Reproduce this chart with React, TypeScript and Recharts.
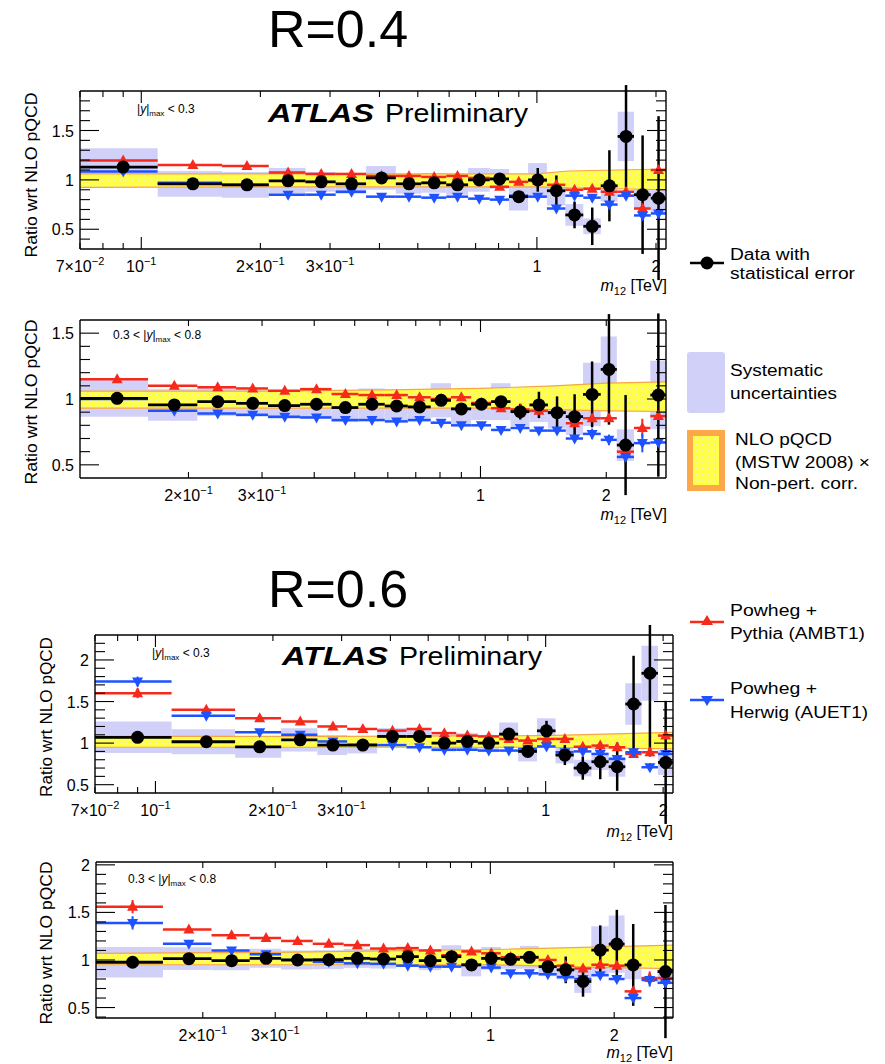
import React from "react";
import { ComposedChart, XAxis, YAxis, Scatter, ErrorBar, Area, ReferenceArea } from "recharts";

// dijet mass bin edges [TeV]
const EDGES = [0.07, 0.11, 0.16, 0.21, 0.26, 0.31, 0.37, 0.44, 0.51, 0.59, 0.67, 0.76, 0.85, 0.95, 1.06, 1.18, 1.31, 1.45, 1.6, 1.76, 1.94, 2.12, 2.33, 2.55, 2.78];

const CENTRAL_BINS = [0, 1, 2, 3, 4, 5, 6, 7, 8, 9, 10, 11, 12, 13, 14, 15, 16, 17, 18, 19, 20];
const FWD_BINS = [1, 2, 3, 4, 5, 6, 7, 8, 9, 10, 11, 12, 13, 14, 15, 16, 17, 18, 19, 20, 21, 22, 23];
const FWD_DATA_BINS = [1, 2, 3, 4, 5, 6, 7, 8, 9, 10, 11, 12, 13, 14, 15, 16, 17, 18, 19, 20, 21, 23];

// R=0.4, |y|max < 0.3
const R04C_DATA = [1.13, 0.96, 0.95, 0.99, 0.98, 0.96, 1.02, 0.96, 0.97, 0.95, 1.0, 1.01, 0.83, 1.0, 0.89, 0.645, 0.53, 0.94, 1.44, 0.85, 0.815];
const R04C_STAT = [0.06, 0.01, 0.01, 0.01, 0.01, 0.01, 0.01, 0.01, 0.01, 0.01, 0.02, 0.03, 0.05, 0.12, 0.155, 0.135, 0.19, 0.36, 0.52, 0.6, 0.83];
const R04C_SYST = [0.19, 0.13, 0.13, 0.13, 0.1, 0.1, 0.12, 0.1, 0.1, 0.1, 0.12, 0.1, 0.14, 0.17, 0.15, 0.11, 0.08, 0.16, 0.25, 0.15, 0.15];
const R04C_PYTHIA = [1.195, 1.15, 1.14, 1.075, 1.06, 1.06, 1.04, 1.04, 1.03, 1.04, 1.02, 0.93, 0.98, 0.99, 0.95, 0.9, 0.91, 0.88, 0.88, 0.71, 1.1];
const R04C_HERWIG = [1.085, 0.97, 0.95, 0.85, 0.85, 0.88, 0.83, 0.83, 0.82, 0.83, 0.81, 0.8, 0.84, 0.83, 0.71, 0.84, 0.82, 0.75, 0.84, 0.64, 0.66];
const R04C_MC_ERR = [0.03, 0.01, 0.01, 0.01, 0.01, 0.01, 0.01, 0.01, 0.01, 0.01, 0.01, 0.01, 0.01, 0.02, 0.02, 0.02, 0.02, 0.03, 0.03, 0.04, 0.04];
const R04C_NLO_X = [0.07, 0.3, 0.6, 1.0, 1.2, 1.6, 2.12];
const R04C_NLO_LO = [0.925, 0.93, 0.93, 0.93, 0.92, 0.91, 0.9];
const R04C_NLO_HI = [1.06, 1.06, 1.06, 1.06, 1.09, 1.1, 1.11];

// R=0.4, 0.3 < |y|max < 0.8
const R04F_DATA = [1.005, 0.955, 0.98, 0.967, 0.95, 0.96, 0.935, 0.96, 0.947, 0.94, 0.99, 0.925, 0.96, 0.98, 0.904, 0.955, 0.896, 0.866, 1.035, 1.225, 0.65, 1.03];
const R04F_STAT = [0.01, 0.01, 0.01, 0.01, 0.01, 0.01, 0.01, 0.01, 0.01, 0.01, 0.015, 0.015, 0.02, 0.03, 0.06, 0.1, 0.124, 0.17, 0.25, 0.42, 0.38, 0.62];
const R04F_SYST = [0.14, 0.12, 0.11, 0.1, 0.1, 0.11, 0.11, 0.12, 0.11, 0.11, 0.13, 0.12, 0.12, 0.14, 0.11, 0.13, 0.12, 0.14, 0.24, 0.25, 0.12, 0.26];
const R04F_PYTHIA = [1.15, 1.1, 1.09, 1.08, 1.063, 1.075, 1.038, 1.03, 1.03, 1.013, 1.0, 1.013, 0.97, 0.93, 0.92, 0.91, 0.9, 0.816, 0.854, 0.854, 0.6, 0.78, 0.87];
const R04F_HERWIG = [1.0, 0.91, 0.89, 0.88, 0.866, 0.86, 0.84, 0.84, 0.83, 0.84, 0.82, 0.8, 0.8, 0.765, 0.78, 0.76, 0.76, 0.7, 0.735, 0.69, 0.56, 0.665, 0.67];
const R04F_MC_ERR = [0.02, 0.01, 0.01, 0.01, 0.01, 0.01, 0.01, 0.01, 0.01, 0.01, 0.01, 0.01, 0.01, 0.02, 0.02, 0.02, 0.03, 0.03, 0.04, 0.04, 0.05, 0.07, 0.04];
const R04F_NLO_X = [0.11, 0.3, 0.6, 1.0, 1.5, 2.0, 2.78];
const R04F_NLO_LO = [0.93, 0.93, 0.93, 0.93, 0.92, 0.91, 0.905];
const R04F_NLO_HI = [1.06, 1.06, 1.07, 1.08, 1.1, 1.12, 1.13];

// R=0.6, |y|max < 0.3
const R06C_DATA = [1.07, 1.016, 0.955, 1.04, 0.976, 0.976, 1.08, 1.08, 1.0, 1.02, 1.0, 1.108, 0.9, 1.148, 0.856, 0.7, 0.776, 0.716, 1.47, 1.84, 0.768];
const R06C_STAT = [0.02, 0.01, 0.01, 0.01, 0.01, 0.01, 0.01, 0.01, 0.01, 0.02, 0.03, 0.06, 0.05, 0.12, 0.12, 0.14, 0.21, 0.29, 0.58, 1.0, 0.74];
const R06C_SYST = [0.19, 0.15, 0.13, 0.14, 0.12, 0.1, 0.1, 0.1, 0.1, 0.1, 0.1, 0.14, 0.12, 0.15, 0.1, 0.1, 0.1, 0.12, 0.25, 0.33, 0.15];
const R06C_PYTHIA = [1.6, 1.4, 1.3, 1.26, 1.2, 1.17, 1.15, 1.17, 1.12, 1.09, 1.08, 1.05, 1.03, 1.05, 1.05, 0.956, 0.97, 0.95, 0.87, 0.89, 1.09];
const R06C_HERWIG = [1.74, 1.33, 1.13, 1.1, 1.02, 0.98, 0.976, 0.95, 0.92, 0.92, 0.91, 0.91, 0.93, 0.96, 0.89, 0.9, 0.87, 0.81, 0.89, 0.71, 0.87];
const R06C_MC_ERR = [0.06, 0.02, 0.01, 0.01, 0.01, 0.01, 0.01, 0.01, 0.01, 0.01, 0.01, 0.01, 0.01, 0.02, 0.02, 0.02, 0.03, 0.03, 0.04, 0.05, 0.05];
const R06C_NLO_X = [0.07, 0.3, 1.0, 2.12];
const R06C_NLO_LO = [0.95, 0.95, 0.95, 0.93];
const R06C_NLO_HI = [1.08, 1.08, 1.09, 1.13];

// R=0.6, 0.3 < |y|max < 0.8
const R06F_DATA = [0.976, 1.014, 0.993, 1.017, 1.0, 1.003, 1.017, 1.01, 1.035, 0.993, 1.035, 0.948, 1.017, 1.007, 1.028, 0.93, 0.896, 0.774, 1.104, 1.167, 0.948, 0.878];
const R06F_STAT = [0.01, 0.01, 0.01, 0.01, 0.01, 0.01, 0.01, 0.01, 0.01, 0.01, 0.01, 0.02, 0.02, 0.03, 0.04, 0.1, 0.14, 0.16, 0.26, 0.36, 0.43, 0.7];
const R06F_SYST = [0.16, 0.12, 0.1, 0.1, 0.1, 0.1, 0.1, 0.1, 0.1, 0.1, 0.12, 0.12, 0.12, 0.1, 0.12, 0.1, 0.1, 0.12, 0.25, 0.3, 0.15, 0.1];
const R06F_PYTHIA = [1.56, 1.32, 1.26, 1.23, 1.2, 1.17, 1.156, 1.12, 1.125, 1.1, 1.05, 1.09, 1.07, 1.03, 1.03, 1.0, 0.94, 0.91, 0.95, 0.94, 0.67, 0.81, 0.81];
const R06F_HERWIG = [1.39, 1.17, 1.1, 1.06, 1.0, 0.98, 0.965, 0.96, 0.94, 0.93, 0.93, 0.95, 0.92, 0.86, 0.86, 0.85, 0.82, 0.8, 0.84, 0.8, 0.6, 0.79, 0.76];
const R06F_MC_ERR = [0.07, 0.02, 0.01, 0.01, 0.01, 0.01, 0.01, 0.01, 0.01, 0.01, 0.01, 0.01, 0.01, 0.02, 0.02, 0.02, 0.03, 0.03, 0.04, 0.04, 0.05, 0.07, 0.05];
const R06F_NLO_X = [0.11, 0.3, 1.0, 2.0, 2.78];
const R06F_NLO_LO = [0.95, 0.95, 0.95, 0.92, 0.91];
const R06F_NLO_HI = [1.07, 1.08, 1.11, 1.14, 1.156];

// axis ticks
const X_TICKS_LOW = [0.07, 0.08, 0.09, 0.1, 0.2, 0.3, 0.4, 0.5, 0.6, 0.7, 0.8, 0.9, 1, 2];
const X_TICKS_HIGH = [0.2, 0.3, 0.4, 0.5, 0.6, 0.7, 0.8, 0.9, 1, 2];
const X_LABELS_LOW: [number, string, string][] = [[0.07, "7×10", "−2"], [0.1, "10", "−1"], [0.2, "2×10", "−1"], [0.3, "3×10", "−1"], [1, "1", ""], [2, "2", ""]];
const X_LABELS_HIGH: [number, string, string][] = [[0.2, "2×10", "−1"], [0.3, "3×10", "−1"], [1, "1", ""], [2, "2", ""]];
const Y_TICKS_A = [0.4, 0.5, 0.6, 0.7, 0.8, 0.9, 1, 1.1, 1.2, 1.3, 1.4, 1.5, 1.6, 1.7, 1.8];
const Y_TICKS_B = [0.5, 0.6, 0.7, 0.8, 0.9, 1, 1.1, 1.2, 1.3, 1.4, 1.5];
const Y_TICKS_C = [0.5, 0.6, 0.7, 0.8, 0.9, 1, 1.1, 1.2, 1.3, 1.4, 1.5, 1.6, 1.7, 1.8, 1.9, 2, 2.1, 2.2];
const Y_TICKS_D = [0.4, 0.5, 0.6, 0.7, 0.8, 0.9, 1, 1.1, 1.2, 1.3, 1.4, 1.5, 1.6, 1.7, 1.8, 1.9, 2];
const Y_MAJOR = [0.5, 1, 1.5, 2];

const FONT = "'Liberation Sans', Arial, Helvetica, sans-serif";
const RED = "#f52a1c";
const BLUE = "#1f52ff";
const SYST = "#d0d0f8";
const NLO_EDGE = "#f7a545";
const AXIS = { stroke: "#000", strokeWidth: 1.4 };

const mid = (b: number) => (EDGES[b] + EDGES[b + 1]) / 2;
const points = (bins: number[], ys: number[], errs: number[]) =>
  bins.map((b, i) => ({ x: mid(b), y: ys[i], ex: [mid(b) - EDGES[b], EDGES[b + 1] - mid(b)], ey: errs[i] }));
const boxes = (bins: number[], ys: number[], syst: number[]) =>
  bins.map((b, i) => ({ x1: EDGES[b], x2: EDGES[b + 1], y1: ys[i] - syst[i], y2: ys[i] + syst[i] }));
const band = (xs: number[], lo: number[], hi: number[]) => xs.map((x, i) => ({ x, band: [lo[i], hi[i]] }));

const Dot = (p: any) => <circle cx={p.cx} cy={p.cy} r={6.5} fill="#000" />;
const Up = (p: any) => <path d={`M${p.cx},${p.cy - 6} L${p.cx + 5.5},${p.cy + 4} L${p.cx - 5.5},${p.cy + 4} Z`} fill={RED} />;
const Down = (p: any) => <path d={`M${p.cx},${p.cy + 6} L${p.cx + 5.5},${p.cy - 4} L${p.cx - 5.5},${p.cy - 4} Z`} fill={BLUE} />;

const xTick = (labels: [number, string, string][], top: boolean) => (p: any) => {
  const v = p.payload.value;
  const len = v === 0.1 || v === 1 ? 12 : 6;
  const lab = labels.find((l) => l[0] === v);
  return (
    <g>
      <line x1={p.x} x2={p.x} y1={p.y} y2={top ? p.y + len : p.y - len} stroke="#000" strokeWidth={1.1} />
      {!top && lab && (
        <text x={p.x} y={p.y + 23} textAnchor="middle" fontSize={16} fontFamily={FONT} fill="#000">
          <tspan>{lab[1]}</tspan>
          {lab[2] && <tspan dy={-7} fontSize={11}>{lab[2]}</tspan>}
        </text>
      )}
    </g>
  );
};

const yTick = (right: boolean) => (p: any) => {
  const v = p.payload.value;
  const major = Y_MAJOR.includes(v);
  const len = major ? 19 : 10;
  return (
    <g>
      <line x1={p.x} x2={right ? p.x - len : p.x + len} y1={p.y} y2={p.y} stroke="#000" strokeWidth={1.1} />
      {!right && major && (
        <text x={p.x - 6} y={p.y + 6} textAnchor="end" fontSize={16} fontFamily={FONT} fill="#000">{v}</text>
      )}
    </g>
  );
};

type PanelProps = {
  id: string;
  frame: { x0: number; x1: number; y0: number; y1: number };
  xDomain: [number, number];
  yDomain: [number, number];
  xTicks: number[];
  xLabels: [number, string, string][];
  yTicks: number[];
  nlo: any[];
  syst: any[];
  data: any[];
  pythia: any[];
  herwig: any[];
};

function Panel({ id, frame, xDomain, yDomain, xTicks, xLabels, yTicks, nlo, syst, data, pythia, herwig }: PanelProps) {
  return (
    <div style={{ position: "absolute", left: 0, top: frame.y0 - 10 }}>
      <ComposedChart width={frame.x1 + 10} height={frame.y1 - frame.y0 + 55} data={nlo} margin={{ top: 9, right: 9, bottom: 0, left: 0 }}>
        <defs>
          <pattern id={`hatch-${id}`} width="3" height="3" patternUnits="userSpaceOnUse">
            <rect width="3" height="3" fill="#ffff4a" />
            <rect width="1" height="1" fill="#f3eeb0" />
          </pattern>
        </defs>
        <XAxis dataKey="x" type="number" scale="log" domain={xDomain} allowDataOverflow ticks={xTicks} interval={0}
          tickSize={0} tickMargin={0} tickLine={false} axisLine={AXIS} tick={xTick(xLabels, false)} height={45} />
        <XAxis xAxisId="top" orientation="top" dataKey="x" type="number" scale="log" domain={xDomain} allowDataOverflow ticks={xTicks} interval={0}
          tickSize={0} tickMargin={0} tickLine={false} axisLine={AXIS} tick={xTick(xLabels, true)} height={1} />
        <YAxis dataKey="y" type="number" domain={yDomain} allowDataOverflow ticks={yTicks} interval={0}
          tickSize={0} tickMargin={0} tickLine={false} axisLine={AXIS} tick={yTick(false)} width={frame.x0} />
        <YAxis yAxisId="right" orientation="right" dataKey="y" type="number" domain={yDomain} allowDataOverflow ticks={yTicks} interval={0}
          tickSize={0} tickMargin={0} tickLine={false} axisLine={AXIS} tick={yTick(true)} width={1} />
        {syst.map((s, i) => (
          <ReferenceArea key={i} x1={s.x1} x2={s.x2} y1={s.y1} y2={s.y2} fill={SYST} fillOpacity={1} stroke="none" ifOverflow="hidden" />
        ))}
        <Area dataKey="band" type="linear" stroke={NLO_EDGE} strokeWidth={1.2} fill={`url(#hatch-${id})`} fillOpacity={1}
          dot={false} activeDot={false} isAnimationActive={false} />
        <Scatter data={pythia} shape={Up} isAnimationActive={false}>
          <ErrorBar dataKey="ex" direction="x" width={0} stroke={RED} strokeWidth={2.5} isAnimationActive={false} />
          <ErrorBar dataKey="ey" direction="y" width={0} stroke={RED} strokeWidth={2} isAnimationActive={false} />
        </Scatter>
        <Scatter data={herwig} shape={Down} isAnimationActive={false}>
          <ErrorBar dataKey="ex" direction="x" width={0} stroke={BLUE} strokeWidth={2.5} isAnimationActive={false} />
          <ErrorBar dataKey="ey" direction="y" width={0} stroke={BLUE} strokeWidth={2} isAnimationActive={false} />
        </Scatter>
        <Scatter data={data} shape={Dot} isAnimationActive={false}>
          <ErrorBar dataKey="ex" direction="x" width={0} stroke="#000" strokeWidth={2.8} isAnimationActive={false} />
          <ErrorBar dataKey="ey" direction="y" width={0} stroke="#000" strokeWidth={2.5} isAnimationActive={false} />
        </Scatter>
      </ComposedChart>
    </div>
  );
}

const YLabel = ({ x, y, len }: { x: number; y: number; len: number }) => (
  <text transform={`translate(${x},${y}) rotate(-90)`} textAnchor="middle" fontSize={17} textLength={len} lengthAdjust="spacingAndGlyphs">
    Ratio wrt NLO pQCD
  </text>
);

const MassLabel = ({ x, y }: { x: number; y: number }) => (
  <text x={x} y={y} textAnchor="end" fontSize={16}>
    <tspan fontStyle="italic">m</tspan>
    <tspan dy={4} fontSize={11}>12</tspan>
    <tspan dy={-4}> [TeV]</tspan>
  </text>
);

const RapLabel = ({ x, y, fwd }: { x: number; y: number; fwd: boolean }) => (
  <text x={x} y={y} fontSize={12}>
    {fwd && <tspan>0.3 &lt; </tspan>}
    <tspan>|</tspan>
    <tspan fontStyle="italic">y</tspan>
    <tspan>|</tspan>
    <tspan dy={3} fontSize={8}>max</tspan>
    <tspan dy={-3}>{fwd ? " < 0.8" : " < 0.3"}</tspan>
  </text>
);

const Atlas = ({ y, x }: { y: number; x: number }) => (
  <g>
    <text x={x} y={y} fontSize={25} fontWeight="bold" fontStyle="italic" textLength={106} lengthAdjust="spacingAndGlyphs">ATLAS</text>
    <text x={x + 117} y={y} fontSize={25} textLength={143} lengthAdjust="spacingAndGlyphs">Preliminary</text>
  </g>
);

const LegText = ({ x, y, w, children }: { x: number; y: number; w: number; children: React.ReactNode }) => (
  <text x={x} y={y} fontSize={16} textLength={w} lengthAdjust="spacingAndGlyphs">{children}</text>
);

export default function App() {
  return (
    <div style={{ position: "absolute", left: 0, top: 0, width: 885, height: 1064, background: "#fff", fontFamily: FONT }}>
      <Panel id="a" frame={{ x0: 80, x1: 666, y0: 91, y1: 249 }} xDomain={[0.07, 2.12]} yDomain={[0.3, 1.9]}
        xTicks={X_TICKS_LOW} xLabels={X_LABELS_LOW} yTicks={Y_TICKS_A}
        nlo={band(R04C_NLO_X, R04C_NLO_LO, R04C_NLO_HI)} syst={boxes(CENTRAL_BINS, R04C_DATA, R04C_SYST)}
        data={points(CENTRAL_BINS, R04C_DATA, R04C_STAT)} pythia={points(CENTRAL_BINS, R04C_PYTHIA, R04C_MC_ERR)}
        herwig={points(CENTRAL_BINS, R04C_HERWIG, R04C_MC_ERR)} />
      <Panel id="b" frame={{ x0: 80, x1: 666, y0: 320, y1: 478 }} xDomain={[0.11, 2.78]} yDomain={[0.4, 1.6]}
        xTicks={X_TICKS_HIGH} xLabels={X_LABELS_HIGH} yTicks={Y_TICKS_B}
        nlo={band(R04F_NLO_X, R04F_NLO_LO, R04F_NLO_HI)} syst={boxes(FWD_DATA_BINS, R04F_DATA, R04F_SYST)}
        data={points(FWD_DATA_BINS, R04F_DATA, R04F_STAT)} pythia={points(FWD_BINS, R04F_PYTHIA, R04F_MC_ERR)}
        herwig={points(FWD_BINS, R04F_HERWIG, R04F_MC_ERR)} />
      <Panel id="c" frame={{ x0: 95, x1: 673, y0: 635, y1: 793 }} xDomain={[0.07, 2.12]} yDomain={[0.4, 2.3]}
        xTicks={X_TICKS_LOW} xLabels={X_LABELS_LOW} yTicks={Y_TICKS_C}
        nlo={band(R06C_NLO_X, R06C_NLO_LO, R06C_NLO_HI)} syst={boxes(CENTRAL_BINS, R06C_DATA, R06C_SYST)}
        data={points(CENTRAL_BINS, R06C_DATA, R06C_STAT)} pythia={points(CENTRAL_BINS, R06C_PYTHIA, R06C_MC_ERR)}
        herwig={points(CENTRAL_BINS, R06C_HERWIG, R06C_MC_ERR)} />
      <Panel id="d" frame={{ x0: 96, x1: 673, y0: 862, y1: 1018 }} xDomain={[0.11, 2.78]} yDomain={[0.39, 2.03]}
        xTicks={X_TICKS_HIGH} xLabels={X_LABELS_HIGH} yTicks={Y_TICKS_D}
        nlo={band(R06F_NLO_X, R06F_NLO_LO, R06F_NLO_HI)} syst={boxes(FWD_DATA_BINS, R06F_DATA, R06F_SYST)}
        data={points(FWD_DATA_BINS, R06F_DATA, R06F_STAT)} pythia={points(FWD_BINS, R06F_PYTHIA, R06F_MC_ERR)}
        herwig={points(FWD_BINS, R06F_HERWIG, R06F_MC_ERR)} />

      <svg width={885} height={1064} style={{ position: "absolute", left: 0, top: 0, pointerEvents: "none" }} fontFamily={FONT} fill="#000">
        <defs>
          <pattern id="hatch-leg" width="3" height="3" patternUnits="userSpaceOnUse">
            <rect width="3" height="3" fill="#ffff4a" />
            <rect width="1" height="1" fill="#f3eeb0" />
          </pattern>
        </defs>
        <text x={338} y={47} fontSize={52} textAnchor="middle">R=0.4</text>
        <text x={338} y={607} fontSize={52} textAnchor="middle">R=0.6</text>

        <Atlas x={268} y={122} />
        <Atlas x={282} y={665} />

        <RapLabel x={137} y={113} fwd={false} />
        <RapLabel x={113} y={339} fwd={true} />
        <RapLabel x={152} y={657} fwd={false} />
        <RapLabel x={128} y={883} fwd={true} />

        <YLabel x={37} y={175} len={165} />
        <YLabel x={37} y={402} len={165} />
        <YLabel x={52} y={717} len={160} />
        <YLabel x={52} y={943} len={163} />

        <MassLabel x={667} y={291} />
        <MassLabel x={667} y={520} />
        <MassLabel x={673} y={837} />
        <MassLabel x={673} y={1058} />

        {/* legend */}
        <line x1={690} x2={724} y1={263} y2={263} stroke="#000" strokeWidth={2.5} />
        <circle cx={707} cy={263} r={6.5} fill="#000" />
        <LegText x={730} y={260} w={80}>Data with</LegText>
        <LegText x={730} y={279} w={125}>statistical error</LegText>

        <rect x={687} y={352} width={38} height={61} rx={3} fill={SYST} />
        <LegText x={730} y={376} w={93}>Systematic</LegText>
        <LegText x={730} y={399} w={107}>uncertainties</LegText>

        <rect x={690} y={433} width={32} height={55} fill="url(#hatch-leg)" stroke="#fca848" strokeWidth={6} />
        <LegText x={735} y={445} w={97}>NLO pQCD</LegText>
        <LegText x={735} y={468} w={135}>(MSTW 2008) ×</LegText>
        <LegText x={735} y={489} w={123}>Non-pert. corr.</LegText>

        <line x1={690} x2={724} y1={622} y2={622} stroke={RED} strokeWidth={2.5} />
        <path d="M707,615 L713,625 L701,625 Z" fill={RED} />
        <LegText x={730} y={616} w={87}>Powheg +</LegText>
        <LegText x={730} y={639} w={135}>Pythia (AMBT1)</LegText>

        <line x1={690} x2={724} y1={700} y2={700} stroke={BLUE} strokeWidth={2.5} />
        <path d="M707,706 L713,696 L701,696 Z" fill={BLUE} />
        <LegText x={730} y={694} w={87}>Powheg +</LegText>
        <LegText x={730} y={718} w={138}>Herwig (AUET1)</LegText>
      </svg>
    </div>
  );
}
